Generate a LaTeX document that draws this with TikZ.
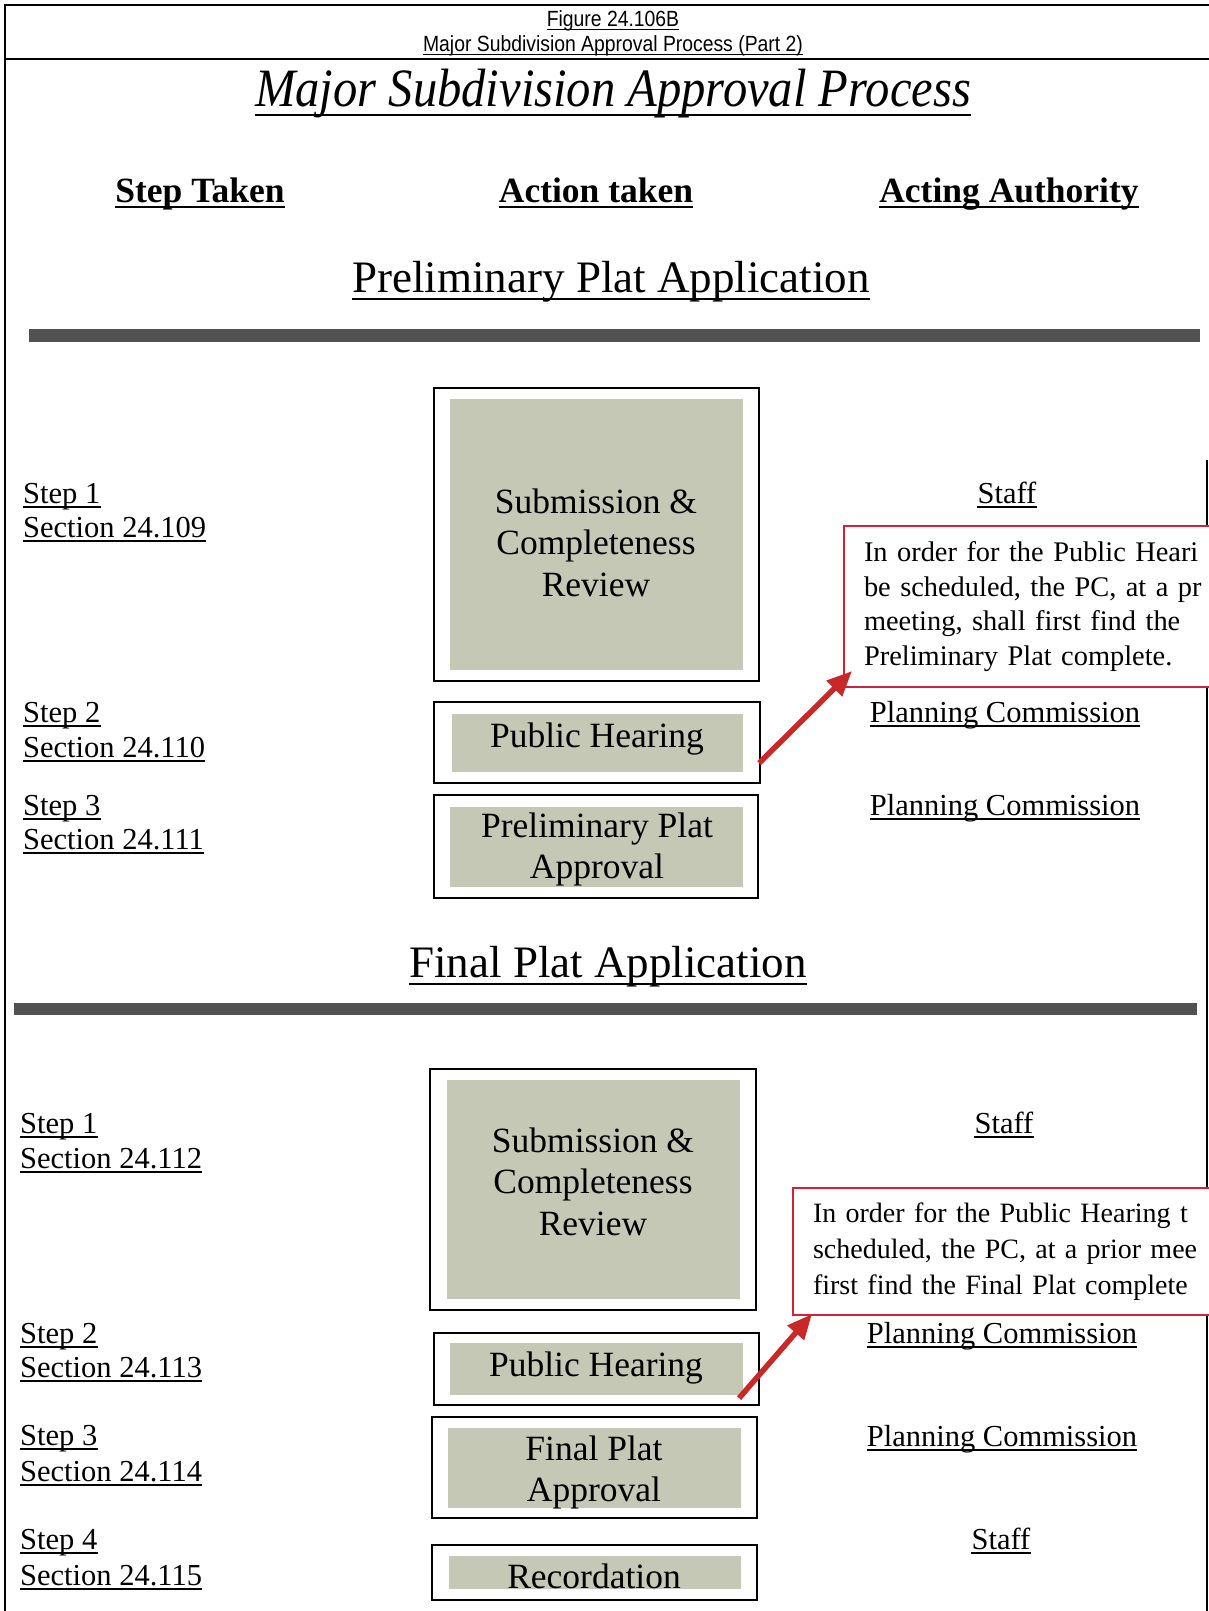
\documentclass[tikz,border=0pt]{standalone}
\usepackage{fontspec}
\setmainfont{Liberation Serif}
\newfontfamily\capfont[FakeStretch=0.88]{Liberation Sans}
\newfontfamily\titlefont[FakeStretch=0.9]{Liberation Serif}
\usetikzlibrary{arrows.meta}
\definecolor{boxgray}{RGB}{198,200,182}
\definecolor{bargray}{RGB}{82,82,82}
\definecolor{notered}{RGB}{205,35,60}
\definecolor{arrowred}{RGB}{200,40,40}

\begin{document}
\begin{tikzpicture}
    [x=1pt, y=-1pt,
     uline/.style 2 args = {append after command={\pgfextra{\draw[line width=#1]
         ([yshift=-#2]\tikzlastnode.base west) -- ([yshift=-#2]\tikzlastnode.base east);}}},
     capline/.style = {anchor=base, inner sep=0pt, font=\capfont\fontsize{22}{25}\selectfont, uline={1.3pt}{2.5pt}},
     titletext/.style = {anchor=base, inner sep=0pt, font=\titlefont\itshape\fontsize{54}{60}\selectfont, uline={2.5pt}{9pt}},
     heading/.style = {anchor=base, inner sep=0pt, font=\bfseries\fontsize{35.5}{40}\selectfont, uline={2.5pt}{5pt}},
     parthead/.style = {anchor=base, inner sep=0pt, font=\fontsize{45}{50}\selectfont, uline={2pt}{7pt}},
     boxframe/.style = {draw, line width=2.2pt, fill=white, inner sep=0pt},
     boxfill/.style = {fill=boxgray, inner sep=0pt},
     boxtext/.style = {align=center, inner sep=0pt, font=\fontsize{35.5}{41.5}\selectfont},
     steptext/.style = {anchor=base west, inner sep=0pt, font=\fontsize{30.5}{34}\selectfont, uline={1.6pt}{4pt}},
     authtext/.style = {anchor=base, inner sep=0pt, font=\fontsize{30.5}{34}\selectfont, uline={1.6pt}{4pt}},
     notebox/.style = {draw=notered, line width=2pt, fill=white, anchor=north west, align=left,
                       text width=440pt, inner xsep=20pt, inner ysep=0pt},
     redarrow/.style = {draw=arrowred, line width=5.5pt, -{Triangle[length=25pt,width=21pt]}},
     bar/.style = {fill=bargray}]
    \useasboundingbox (0,0) rectangle (1209,1611);
    \clip (0,0) rectangle (1209,1611);

    \draw[line width=2pt] (5,1611) -- (5,5) -- (1209,5);
    \draw[line width=2pt] (5,59) -- (1209,59);
    \draw[line width=2pt] (1207,460) -- (1207,1611);

    \node[capline] (fig) at (613,27) {Figure 24.106B};
    \node[capline] (figname) at (613,52) {Major Subdivision Approval Process (Part 2)};
    \node[titletext] (title) at (613,106) {Major Subdivision Approval Process};

    \node[heading] (steph) at (200,202) {Step Taken};
    \node[heading] (acth) at (596,202) {Action taken};
    \node[heading] (authh) at (1009,202) {Acting Authority};

    \node[parthead] (prelim) at (611,292) {Preliminary Plat Application};
    \fill[bar] (29,329) rectangle (1200,342);

    \node[boxframe, minimum width=325, minimum height=293] (sub1) at (596.5,534.5) {};
    \node[boxfill, minimum width=293, minimum height=271] (sub1in) at (sub1.center) {};
    \node[boxtext] (sub1txt) at (596,542.5) {Submission \&\\Completeness\\Review};

    \node[boxframe, minimum width=326, minimum height=81] (ph1) at (597,742.5) {};
    \node[boxfill, minimum width=291, minimum height=58] (ph1in) at (ph1.center) {};
    \node[boxtext, anchor=base] (ph1txt) at (597,747) {Public Hearing};

    \node[boxframe, minimum width=324, minimum height=103] (ppa) at (596,846.5) {};
    \node[boxfill, minimum width=293, minimum height=80] (ppain) at (ppa.center) {};
    \node[boxtext] (ppatxt) at (597,849.5) {Preliminary Plat\\Approval};

    \node[steptext] (pstep1) at (23,503) {Step 1};
    \node[steptext] (psec1) at (23,537) {Section 24.109};
    \node[steptext] (pstep2) at (23,722) {Step 2};
    \node[steptext] (psec2) at (23,757) {Section 24.110};
    \node[steptext] (pstep3) at (23,815) {Step 3};
    \node[steptext] (psec3) at (23,849) {Section 24.111};

    \node[authtext] (pauth1) at (1007,503) {Staff};
    \node[authtext] (pauth2) at (1005,722) {Planning Commission};
    \node[authtext] (pauth3) at (1005,815) {Planning Commission};

    \node[notebox, minimum height=161, font=\fontsize{28.4}{34.6}\selectfont] (note1) at (843,525)
        {In order for the Public Heari\\be scheduled, the PC, at a pr\\meeting, shall first find the\\Preliminary Plat complete.};
    \draw[redarrow] ([shift={(-2pt,21pt)}]ph1.south east) -- ([shift={(9pt,17pt)}]note1.south west);

    \node[parthead] (final) at (608,977) {Final Plat Application};
    \fill[bar] (14,1003) rectangle (1197,1015);

    \node[boxframe, minimum width=326, minimum height=241] (sub2) at (593,1189.5) {};
    \node[boxfill, minimum width=293, minimum height=219] (sub2in) at (sub2.center) {};
    \node[boxtext] (sub2txt) at (593,1181.5) {Submission \&\\Completeness\\Review};

    \node[boxframe, minimum width=325, minimum height=72] (ph2) at (596.5,1369) {};
    \node[boxfill, minimum width=293, minimum height=52] (ph2in) at (ph2.center) {};
    \node[boxtext, anchor=base] (ph2txt) at (596,1376) {Public Hearing};

    \node[boxframe, minimum width=325, minimum height=101] (fpa) at (594.5,1467.5) {};
    \node[boxfill, minimum width=293, minimum height=80] (fpain) at (fpa.center) {};
    \node[boxtext] (fpatxt) at (594,1472.5) {Final Plat\\Approval};

    \node[boxframe, minimum width=325, minimum height=55] (rec) at (594.5,1572.5) {};
    \node[boxfill, minimum width=292, minimum height=33] (recin) at (rec.center) {};
    \node[boxtext, anchor=base] (rectxt) at (594,1588) {Recordation};

    \node[steptext] (fstep1) at (20,1133) {Step 1};
    \node[steptext] (fsec1) at (20,1168) {Section 24.112};
    \node[steptext] (fstep2) at (20,1343) {Step 2};
    \node[steptext] (fsec2) at (20,1377) {Section 24.113};
    \node[steptext] (fstep3) at (20,1445) {Step 3};
    \node[steptext] (fsec3) at (20,1481) {Section 24.114};
    \node[steptext] (fstep4) at (20,1549) {Step 4};
    \node[steptext] (fsec4) at (20,1585) {Section 24.115};

    \node[authtext] (fauth1) at (1004,1133) {Staff};
    \node[authtext] (fauth2) at (1002,1343) {Planning Commission};
    \node[authtext] (fauth3) at (1002,1446) {Planning Commission};
    \node[authtext] (fauth4) at (1001,1549) {Staff};

    \node[notebox, minimum height=127, font=\fontsize{28}{36}\selectfont] (note2) at (792,1187)
        {In order for the Public Hearing t\\scheduled, the PC, at a prior mee\\first find the Final Plat complete};
    \draw[redarrow] ([shift={(-21pt,8pt)}]ph2.south east) -- ([shift={(20pt,2pt)}]note2.south west);
\end{tikzpicture}
\end{document}
